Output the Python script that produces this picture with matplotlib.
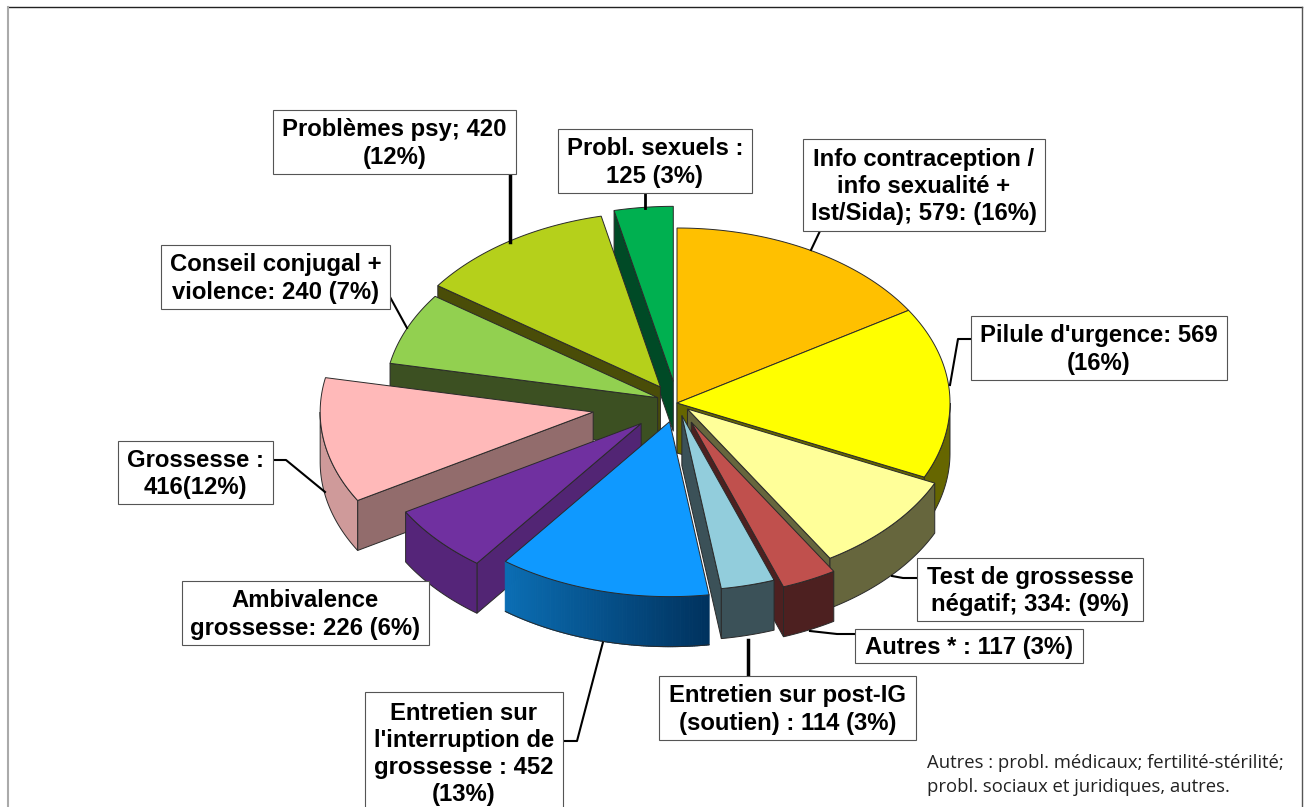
#!/usr/bin/env python3
"""Camembert 3D éclaté des motifs d'entretien."""
import numpy as np
import matplotlib
matplotlib.use('Agg')
import matplotlib.pyplot as plt
from matplotlib.patches import Rectangle

labels = [
    "Info contraception /\ninfo sexualité +\nIst/Sida); 579: (16%)",
    "Pilule d'urgence: 569\n(16%)",
    "Test de grossesse\nnégatif; 334: (9%)",
    "Autres * : 117 (3%)",
    "Entretien sur post-IG\n(soutien) : 114 (3%)",
    "Entretien sur\nl'interruption de\ngrossesse : 452\n(13%)",
    "Ambivalence\ngrossesse: 226 (6%)",
    "Grossesse :\n416(12%)",
    "Conseil conjugal +\nviolence: 240 (7%)",
    "Problèmes psy; 420\n(12%)",
    "Probl. sexuels :\n125 (3%)",
]
values = [579, 569, 334, 117, 114, 452, 226, 416, 240, 420, 125]
note = "Autres : probl. médicaux; fertilité-stérilité;\nprobl. sociaux et juridiques, autres."

# style
top_colors = ["#FFC000", "#FFFF00", "#FFFF99", "#C0504D", "#92CDDC", "#0F99FF",
              "#7030A0", "#FFB9B9", "#92D050", "#B5D01B", "#00B050"]
wall_colors = ["#664D00", "#666600", "#66663D", "#4D2020", "#3B5158", "#003A66",
               "#522574", "#926C6C", "#3C5022", "#4A4D08", "#004A26"]
rim_colors = ["#664D00", "#666600", "#66663D", "#4D2020", "#3B5158", None,
              "#552579", "#CF9A9A", "#3C5022", "#4A4D08", "#004A26"]
explode = [0, 0, 14, 33, 20, 30, 48, 85, 21, 30, 34]
draw_order = [10, 9, 0, 8, 1, 7, 2, 6, 3, 4, 5]

CX, CY = 677, 403
RX, RY = 273, 175
DEPTH = 50
EDGE = "#2A2A2A"

# x0, y0, x1, y1 de chaque encadré, dans l'ordre des labels
boxes = [
    (803, 139, 1045, 231), (971, 316, 1227, 380), (917, 558, 1143, 621),
    (855, 629, 1083, 663), (659, 676, 916, 740), (365, 692, 563, 815),
    (182, 581, 429, 645), (118, 441, 273, 504), (161, 245, 390, 309),
    (273, 110, 516, 174), (558, 129, 752, 193),
]
leaders = [
    ([820, 811], [231, 250], 1.5), ([971, 958, 950], [339, 339, 385], 1.5),
    ([917, 903, 892], [578, 578, 576], 1.5), ([855, 837, 810], [634, 634, 631], 1.5),
    ([748, 748], [640, 676], 2.5), ([563, 577, 603], [741, 741, 642], 1.5),
    ([273, 286, 325], [460, 460, 492], 1.5), ([390, 407], [297, 328], 1.5),
    ([510, 510], [174, 242], 2.5), ([645, 645], [193, 208], 2),
]


def rim_xy(a, x0, y0, dy=0):
    a = np.radians(a)
    return x0 + RX * np.sin(a), y0 - RY * np.cos(a) + dy


def radial_face(ax, a, x0, y0, color):
    x1, y1 = rim_xy(a, x0, y0)
    ax.fill([x0, x1, x1, x0], [y0, y1, y1 + DEPTH, y0 + DEPTH],
            facecolor=color, edgecolor=EDGE, linewidth=0.7)


def draw_rim(ax, start, end, x0, y0, color):
    a0, a1 = max(start, 90), min(end, 270)
    if a1 <= a0:
        return
    angles = np.linspace(a0, a1, max(int(a1 - a0) * 2, 2))
    xs, ys = rim_xy(angles, x0, y0)
    if color is None:
        # côté bleu en dégradé
        c_left = np.array([0x0B, 0x6E, 0xB4]) / 255
        c_right = np.array([0x00, 0x32, 0x5E]) / 255
        for i in range(len(angles) - 1):
            t = (xs[0] - xs[i]) / (xs[0] - xs[-1])
            c = c_right + (c_left - c_right) * t
            ax.fill([xs[i], xs[i + 1], xs[i + 1], xs[i]],
                    [ys[i], ys[i + 1], ys[i + 1] + DEPTH, ys[i] + DEPTH],
                    facecolor=c, edgecolor=c, linewidth=0.8)
        ax.plot(xs, ys + DEPTH, color=EDGE, linewidth=0.7)
        return
    ax.fill(np.r_[xs, xs[::-1]], np.r_[ys, ys[::-1] + DEPTH],
            facecolor=color, edgecolor=EDGE, linewidth=0.7)


def draw_slice(ax, i, start, end):
    mid = np.radians((start + end) / 2)
    x0 = CX + explode[i] * np.sin(mid)
    y0 = CY - explode[i] * np.cos(mid) * RY / RX
    if np.sin(np.radians(start)) < -1e-6:
        radial_face(ax, start, x0, y0, wall_colors[i])
    if np.sin(np.radians(end)) > 1e-6:
        radial_face(ax, end, x0, y0, wall_colors[i])
    draw_rim(ax, start, end, x0, y0, rim_colors[i])
    angles = np.linspace(start, end, 80)
    xs, ys = rim_xy(angles, x0, y0)
    ax.fill(np.r_[x0, xs], np.r_[y0, ys], facecolor=top_colors[i],
            edgecolor=EDGE, linewidth=0.7)


def main():
    plt.rcParams['font.family'] = ['Liberation Sans', 'DejaVu Sans']
    fig = plt.figure(figsize=(13.08, 8.07), dpi=100)
    ax = fig.add_axes([0, 0, 1, 1])
    ax.set_xlim(0, 1308)
    ax.set_ylim(807, 0)
    ax.axis('off')

    # cadre
    ax.plot([8, 1302], [7, 7], color="#222222", linewidth=1)
    ax.plot([8, 8], [7, 807], color="#AAAAAA", linewidth=1.5)
    ax.plot([1302, 1302], [7, 807], color="#555555", linewidth=1)

    for xs, ys, lw in leaders:
        ax.plot(xs, ys, color="black", linewidth=lw)

    edges = np.r_[0, np.cumsum(values)] / sum(values) * 360
    for i in draw_order:
        draw_slice(ax, i, edges[i], edges[i + 1])

    for text, (x0, y0, x1, y1) in zip(labels, boxes):
        ax.add_patch(Rectangle((x0, y0), x1 - x0, y1 - y0, facecolor="white",
                               edgecolor="#555555", linewidth=0.8, zorder=5,
                               clip_on=True))
        yc = 754 if y1 > 807 else (y0 + y1) / 2 + 1.5
        ax.text((x0 + x1) / 2, yc, text, ha='center', va='center', fontsize=17.2,
                fontweight='bold', linespacing=1.24, color="black", zorder=6)

    ax.text(927, 775, note, ha='left', va='center', fontsize=13.3,
            family=['Open Sans', 'DejaVu Sans'], color="#222222", linespacing=1.42, zorder=6)

    fig.savefig("out.png", dpi=100)
    plt.close(fig)


if __name__ == "__main__":
    main()
